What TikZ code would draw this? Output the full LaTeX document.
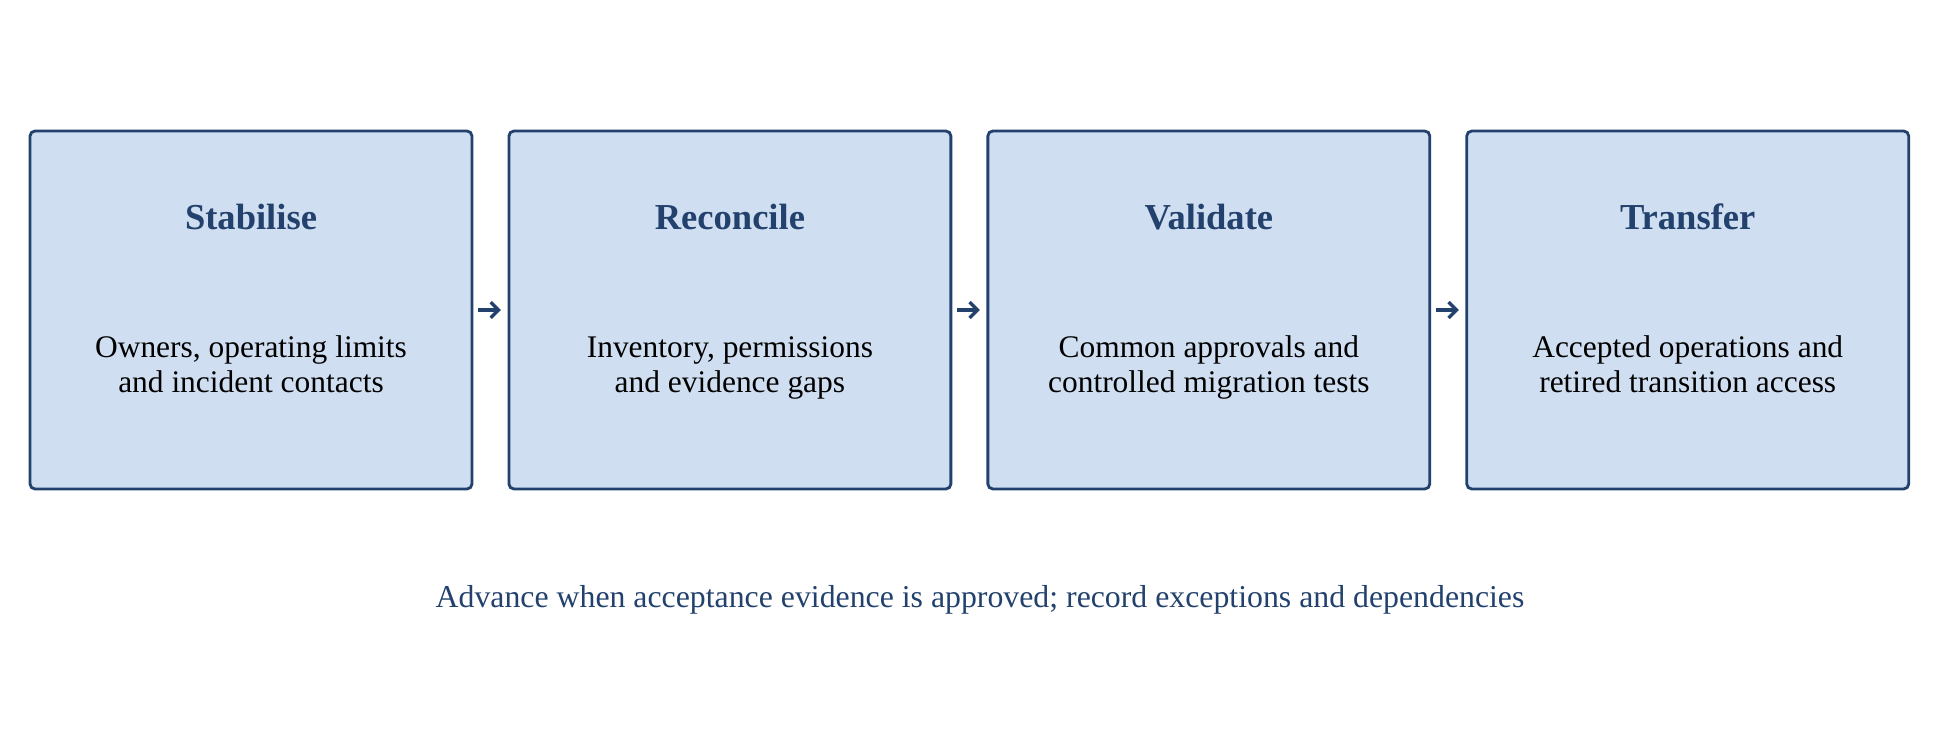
\documentclass[tikz,border=0pt]{standalone}
\usepackage{fontspec}
\setmainfont{Liberation Serif}
\usetikzlibrary{positioning}
\usetikzlibrary{arrows.meta}
\definecolor{StageFill}{HTML}{CFDEF0}
\definecolor{StageLine}{HTML}{22416D}

\begin{document}
\begin{tikzpicture}[x=0.02cm,y=0.02cm,
  stagebox/.style={draw=StageLine,fill=StageFill,line width=1.6pt,rounded corners=2.8pt,
    minimum width=8.84cm,minimum height=7.16cm,inner sep=0pt,outer sep=0pt},
  stagetitle/.style={text=StageLine,font=\fontsize{20.8}{25}\selectfont\bfseries},
  stagetext/.style={align=center,font=\fontsize{17.9}{19.9}\selectfont},
  flow/.style={draw=StageLine,line width=1.9pt,-{Straight Barb[length=4.5pt,width=9pt]}}]
\useasboundingbox (0,0) rectangle (1958,748);
\node[stagebox] (stab) at (251,438) {};
\node[stagebox,right=0.74cm of stab] (reco) {};
\node[stagebox,right=0.74cm of reco] (vali) {};
\node[stagebox,right=0.74cm of vali] (tran) {};
\node[stagetitle] (stabT) at ([yshift=-1.72cm]stab.north) {Stabilise};
\node[stagetitle] (recoT) at ([yshift=-1.72cm]reco.north) {Reconcile};
\node[stagetitle] (valiT) at ([yshift=-1.72cm]vali.north) {Validate};
\node[stagetitle] (tranT) at ([yshift=-1.72cm]tran.north) {Transfer};
\node[stagetext] (stabB) at ([yshift=-1.17cm]stab.center) {\strut Owners, operating limits\\and incident contacts\strut};
\node[stagetext] (recoB) at ([yshift=-1.17cm]reco.center) {\strut Inventory, permissions\\and evidence gaps\strut};
\node[stagetext] (valiB) at ([yshift=-1.17cm]vali.center) {\strut Common approvals and\\controlled migration tests\strut};
\node[stagetext] (tranB) at ([yshift=-1.17cm]tran.center) {\strut Accepted operations and\\retired transition access\strut};
\draw[flow] ([xshift=0.12cm]stab.east) -- ([xshift=-0.16cm]reco.west);
\draw[flow] ([xshift=0.12cm]reco.east) -- ([xshift=-0.16cm]vali.west);
\draw[flow] ([xshift=0.12cm]vali.east) -- ([xshift=-0.16cm]tran.west);
\node[text=StageLine,font=\fontsize{18.1}{21}\selectfont] (note) at (980,148)
{Advance when acceptance evidence is approved; record exceptions and dependencies};
\end{tikzpicture}
\end{document}
